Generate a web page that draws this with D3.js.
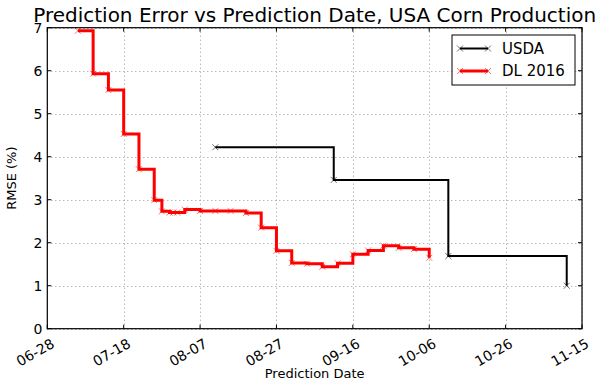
<!DOCTYPE html>
<html>
<head>
<meta charset="utf-8">
<script src="https://cdn.jsdelivr.net/npm/d3@7"></script>
<style>
  body { margin: 0; background: #fff; }
  text { font-family: "DejaVu Sans", sans-serif; fill: #000; }
</style>
</head>
<body>
<div id="chart"></div>
<script>
// data
var tickDates = ["06-28", "07-18", "08-07", "08-27", "09-16", "10-06", "10-26", "11-15"];
var yTicks = [0, 1, 2, 3, 4, 5, 6, 7];

var usdaDates = ["08-11", "09-11", "10-11", "11-11"];
var usdaRmse = [4.22, 3.46, 1.69, 1.0];

var dlDates = ["07-06", "07-10", "07-14", "07-18", "07-22", "07-26", "07-28", "07-30",
  "07-31", "08-01", "08-03", "08-07", "08-11", "08-15", "08-19", "08-23", "08-27",
  "08-31", "09-04", "09-08", "09-12", "09-16", "09-20", "09-24", "09-28", "10-02", "10-06"];
var dlRmse = [6.93, 5.93, 5.55, 4.53, 3.71, 2.99, 2.73, 2.70,
  2.70, 2.70, 2.77, 2.74, 2.74, 2.74, 2.69, 2.35, 1.81,
  1.53, 1.51, 1.44, 1.52, 1.73, 1.82, 1.93, 1.88, 1.85, 1.65];

var parse = d3.timeParse("%Y-%m-%d");
var toDate = s => parse("2016-" + s);

var width = 600, height = 387;
var margin = {left: 47.3, right: 18, top: 27.7, bottom: 58.3};

var svg = d3.select("#chart").append("svg")
  .attr("width", width)
  .attr("height", height);

var x = d3.scaleTime()
  .domain([toDate(tickDates[0]), toDate(tickDates[tickDates.length - 1])])
  .range([margin.left, width - margin.right]);
var y = d3.scaleLinear()
  .domain([0, 7])
  .range([height - margin.bottom, margin.top]);

var x0 = margin.left, x1 = width - margin.right;
var y0 = height - margin.bottom, y1 = margin.top;

// grid
var grid = svg.append("g");
tickDates.forEach(function(t) {
  var px = Math.round(x(toDate(t))) + 0.5;
  grid.append("line").attr("x1", px).attr("x2", px).attr("y1", y0).attr("y2", y1);
});
yTicks.forEach(function(t) {
  var py = Math.round(y(t)) + 0.5;
  grid.append("line").attr("x1", x0).attr("x2", x1).attr("y1", py).attr("y2", py);
});
grid.selectAll("line")
  .style("stroke", "#999")
  .style("stroke-width", 1)
  .style("stroke-dasharray", "1,3");

// lines
var line = d3.line()
  .x(d => x(d[0]))
  .y(d => y(d[1]))
  .curve(d3.curveStepAfter);

var usda = usdaDates.map((d, i) => [toDate(d), usdaRmse[i]]);
var dl = dlDates.map((d, i) => [toDate(d), dlRmse[i]]);

function drawSeries(data, color, w) {
  svg.append("path")
    .datum(data)
    .attr("d", line)
    .style("fill", "none")
    .style("stroke", color)
    .style("stroke-width", w)
    .style("stroke-linejoin", "miter");
  var m = 3;
  svg.append("g").selectAll("path")
    .data(data)
    .enter()
    .append("path")
    .attr("d", d => {
      var px = x(d[0]), py = y(d[1]);
      return "M" + (px - m) + "," + (py - m) + "L" + (px + m) + "," + (py + m) +
        "M" + (px - m) + "," + (py + m) + "L" + (px + m) + "," + (py - m);
    })
    .style("stroke", color)
    .style("stroke-width", 1)
    .style("opacity", 0.55);
}
drawSeries(usda, "#000", 2);
drawSeries(dl, "#ff0000", 3);

// frame
svg.append("rect")
  .attr("x", x0).attr("y", y1)
  .attr("width", x1 - x0).attr("height", y0 - y1)
  .style("fill", "none")
  .style("stroke", "#000")
  .style("stroke-width", 1.2);

// ticks, inward on all sides
var ticks = svg.append("g").style("stroke", "#000").style("stroke-width", 1);
tickDates.forEach(function(t) {
  var px = x(toDate(t));
  ticks.append("line").attr("x1", px).attr("x2", px).attr("y1", y0).attr("y2", y0 - 4);
  ticks.append("line").attr("x1", px).attr("x2", px).attr("y1", y1).attr("y2", y1 + 4);
  svg.append("text")
    .attr("transform", "translate(" + (px + 3) + "," + (y0 + 9) + ") rotate(-30)")
    .attr("text-anchor", "end")
    .attr("dy", "0.72em")
    .style("font-size", "14px")
    .text(t);
});
yTicks.forEach(function(t) {
  var py = y(t);
  ticks.append("line").attr("x1", x0).attr("x2", x0 + 4).attr("y1", py).attr("y2", py);
  ticks.append("line").attr("x1", x1).attr("x2", x1 - 4).attr("y1", py).attr("y2", py);
  svg.append("text")
    .attr("x", x0 - 5)
    .attr("y", py)
    .attr("dy", "0.36em")
    .attr("text-anchor", "end")
    .style("font-size", "14px")
    .text(t);
});

// labels
svg.append("text")
  .attr("x", (x0 + x1) / 2)
  .attr("y", 22)
  .attr("text-anchor", "middle")
  .style("font-size", "20px")
  .text("Prediction Error vs Prediction Date, USA Corn Production");

svg.append("text")
  .attr("x", (x0 + x1) / 2)
  .attr("y", 378)
  .attr("text-anchor", "middle")
  .style("font-size", "13px")
  .text("Prediction Date");

svg.append("text")
  .attr("transform", "translate(16," + ((y0 + y1) / 2) + ") rotate(-90)")
  .attr("text-anchor", "middle")
  .style("font-size", "13px")
  .text("RMSE (%)");

// legend
var lg = svg.append("g").attr("transform", "translate(452,35)");
lg.append("rect")
  .attr("width", 123).attr("height", 50)
  .style("fill", "#fff")
  .style("stroke", "#000")
  .style("stroke-width", 1);
[["USDA", "#000", 2], ["DL 2016", "#ff0000", 3]].forEach(function(s, i) {
  var ly = 13.5 + i * 22.5;
  lg.append("line")
    .attr("x1", 8).attr("x2", 36).attr("y1", ly).attr("y2", ly)
    .style("stroke", s[1]).style("stroke-width", s[2]);
  [8, 36].forEach(function(mx) {
    lg.append("path")
      .attr("d", "M" + (mx - 3) + "," + (ly - 3) + "L" + (mx + 3) + "," + (ly + 3) +
        "M" + (mx - 3) + "," + (ly + 3) + "L" + (mx + 3) + "," + (ly - 3))
      .style("stroke", s[1]).style("stroke-width", 1).style("opacity", 0.55);
  });
  lg.append("text")
    .attr("x", 50)
    .attr("y", ly)
    .attr("dy", "0.36em")
    .style("font-size", "15px")
    .text(s[0]);
});
</script>
</body>
</html>
